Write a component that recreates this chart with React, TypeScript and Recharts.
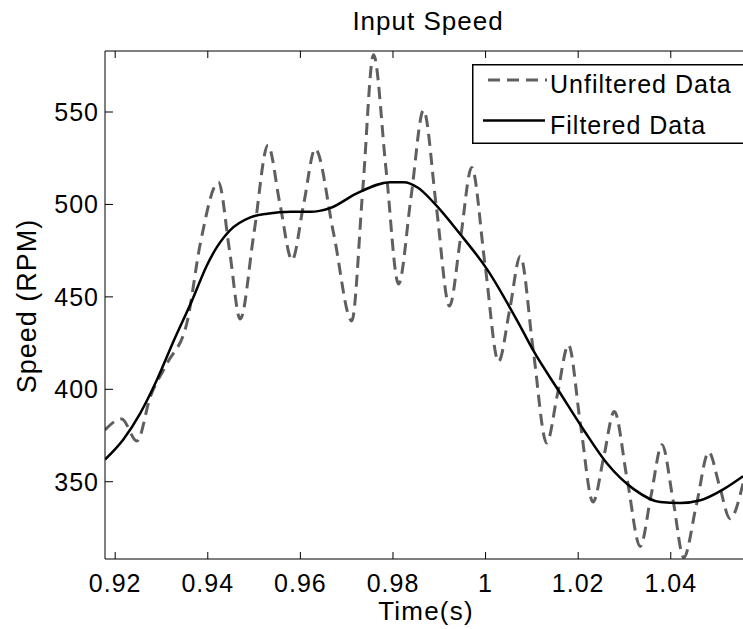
import { LineChart, Line, XAxis, YAxis, Legend, Label } from "recharts";

const FONT = '"Liberation Sans", Arial, Helvetica, sans-serif';

const RAW_NAME = "Unfiltered Data";
const FILT_NAME = "Filtered Data";

// unfiltered samples (s, RPM)
const rawTime = [
  0.9178, 0.9214, 0.9247, 0.9276, 0.9312, 0.9355, 0.9384, 0.9423, 0.9447, 0.947,
  0.95, 0.953, 0.9556, 0.9582, 0.9607, 0.9632, 0.9672, 0.9711, 0.9735, 0.9758,
  0.9785, 0.9812, 0.9839, 0.9866, 0.9894, 0.9922, 0.9946, 0.997, 0.9999, 1.0028,
  1.0052, 1.0075, 1.0103, 1.0132, 1.0155, 1.0179, 1.0205, 1.0232, 1.0255, 1.0278,
  1.0306, 1.0334, 1.0357, 1.0381, 1.0405, 1.0428, 1.0455, 1.0482, 1.0505, 1.0528,
  1.0556,
];
const rawSpeed = [
  378, 384, 372, 396, 414, 436, 479, 512, 475, 438,
  485, 532, 500, 470, 500, 530, 484, 437, 509, 581,
  519, 457, 504, 551, 498, 445, 482, 520, 467, 415,
  443, 472, 421, 371, 397, 424, 381, 339, 363, 388,
  351, 315, 342, 370, 340, 309, 337, 366, 348, 330,
  349,
];

// filtered samples
const filtTime = [
  0.9178, 0.9218, 0.9254, 0.929, 0.9326, 0.9366, 0.9398, 0.942, 0.9434, 0.9448,
  0.9492, 0.9528, 0.958, 0.9621, 0.9664, 0.9722, 0.9794, 0.9823, 0.9854, 0.9888,
  0.9945, 1.0003, 1.0075, 1.0103, 1.0161, 1.0212, 1.0262, 1.032, 1.0377, 1.042,
  1.0464, 1.0514, 1.0556,
];
const filtSpeed = [
  362, 373, 387, 405, 426, 448, 467, 477, 482, 486,
  493, 495, 496, 496, 498, 506, 512, 512, 509, 501,
  484, 465, 434, 421, 398, 378, 360, 346, 339, 338.5,
  340, 346, 353,
];

const timeTicks = [0.92, 0.94, 0.96, 0.98, 1, 1.02, 1.04];
const speedTicks = [350, 400, 450, 500, 550];

const rawRows = rawTime.map((t, i) => ({ t, v: rawSpeed[i] }));
const filtRows = filtTime.map((t, i) => ({ t, v: filtSpeed[i] }));

const X_DOMAIN = [0.9178, 1.0556];
const Y_DOMAIN = [308.2, 583];

const txt = { fontFamily: FONT, fill: "#000", letterSpacing: 1 };

const fmtTime = (v: number) => String(Number(v.toFixed(2)));

const BottomTick = ({ x, y, payload }: any) => (
  <g>
    <line x1={x} y1={y} x2={x} y2={y - 7} stroke="#000" />
    <text x={x} y={y + 33} textAnchor="middle" fontSize={25} style={txt}>
      {fmtTime(payload.value)}
    </text>
  </g>
);

const TopTick = ({ x, y }: any) => (
  <line x1={x} y1={y} x2={x} y2={y + 7} stroke="#000" />
);

const LeftTick = ({ x, y, payload }: any) => (
  <g>
    <line x1={x} y1={y} x2={x + 8} y2={y} stroke="#000" />
    <text x={x - 6} y={y + 9} textAnchor="end" fontSize={25} style={txt}>
      {payload.value}
    </text>
  </g>
);

const order = [RAW_NAME, FILT_NAME];

const LegendBox = ({ payload }: any) => {
  const items = [...(payload || [])].sort(
    (a: any, b: any) => order.indexOf(a.value) - order.indexOf(b.value)
  );
  return (
    <svg width={275} height={80} style={{ display: "block" }}>
      <rect x={0.75} y={0.75} width={290} height={78.5} fill="#fff" stroke="#000" strokeWidth={1.5} />
      {items.map((p: any, i: number) => {
        const dash = p.payload?.strokeDasharray;
        const ly = i === 0 ? 16 : 56.5;
        return (
          <g key={p.value}>
            <line
              x1={dash ? 16 : 11}
              x2={dash ? 75 : 73}
              y1={ly}
              y2={ly}
              stroke={p.color}
              strokeWidth={dash ? 3 : 2.5}
              strokeDasharray={dash}
            />
            <text x={78} y={ly + 13} fontSize={25} style={txt}>
              {p.value}
            </text>
          </g>
        );
      })}
    </svg>
  );
};

export default function App() {
  return (
    <div
      style={{
        position: "absolute",
        left: 0,
        top: 0,
        width: 743,
        height: 629,
        overflow: "hidden",
        background: "#fff",
      }}
    >
      <LineChart width={743} height={629} margin={{ top: 50, right: 0, left: 0, bottom: 0 }}>
        <XAxis
          xAxisId="top"
          orientation="top"
          type="number"
          dataKey="t"
          domain={X_DOMAIN}
          ticks={timeTicks}
          allowDataOverflow
          height={1}
          tickSize={0}
          tickMargin={0}
          tickLine={false}
          tick={<TopTick />}
          axisLine={{ stroke: "#000" }}
        >
          <Label
            content={() => (
              <text x={428} y={30} textAnchor="middle" fontSize={26} style={txt}>
                Input Speed
              </text>
            )}
          />
        </XAxis>
        <XAxis
          type="number"
          dataKey="t"
          domain={X_DOMAIN}
          ticks={timeTicks}
          allowDataOverflow
          height={70}
          tickSize={0}
          tickMargin={0}
          tickLine={false}
          tick={<BottomTick />}
          axisLine={{ stroke: "#000" }}
        >
          <Label
            content={() => (
              <text x={426} y={620} textAnchor="middle" fontSize={26} style={{ ...txt, letterSpacing: 1.2 }}>
                Time(s)
              </text>
            )}
          />
        </XAxis>
        <YAxis
          type="number"
          domain={Y_DOMAIN}
          ticks={speedTicks}
          allowDataOverflow
          width={105}
          tickSize={0}
          tickMargin={0}
          tickLine={false}
          tick={<LeftTick />}
          axisLine={{ stroke: "#000" }}
        >
          <Label
            content={() => (
              <text
                x={36}
                y={306}
                textAnchor="middle"
                fontSize={27}
                transform="rotate(-90, 36, 306)"
                style={txt}
              >
                Speed (RPM)
              </text>
            )}
          />
        </YAxis>
        <Legend
          layout="vertical"
          align="center"
          verticalAlign="middle"
          content={<LegendBox />}
          wrapperStyle={{ left: 472, top: 64, width: 275, height: 80 }}
        />
        <Line
          data={rawRows}
          dataKey="v"
          name={RAW_NAME}
          type="monotone"
          stroke="#5f5f5f"
          strokeWidth={3}
          strokeDasharray="12 7"
          dot={false}
          isAnimationActive={false}
        />
        <Line
          xAxisId="top"
          data={filtRows}
          dataKey="v"
          name={FILT_NAME}
          type="monotone"
          stroke="#000"
          strokeWidth={2.5}
          dot={false}
          isAnimationActive={false}
        />
      </LineChart>
    </div>
  );
}
